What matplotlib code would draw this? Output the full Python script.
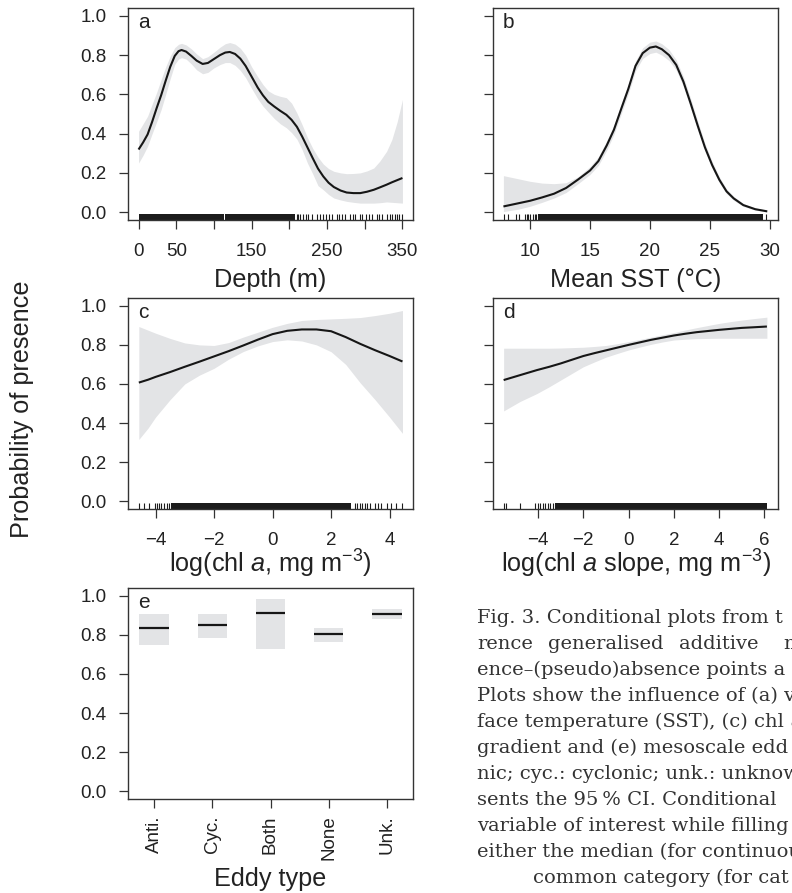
import numpy as np
import matplotlib
matplotlib.use("Agg")
import matplotlib.pyplot as plt

# ============================================================================
# 1. Data
# ============================================================================
# (a) Depth
depth_x = [0, 6, 12, 18, 24, 30, 36, 42, 48, 53, 57, 63, 70, 77, 85, 92, 100, 108, 115,
           121, 128, 135, 142, 150, 158, 165, 172, 180, 188, 196, 203, 210, 217, 224,
           231, 238, 245, 252, 259, 268, 276, 285, 294, 303, 312, 320, 329, 336, 343, 350]
depth_fit = [0.319, 0.355, 0.396, 0.46, 0.53, 0.596, 0.67, 0.74, 0.796, 0.82, 0.826, 0.818,
             0.796, 0.772, 0.755, 0.76, 0.78, 0.8, 0.813, 0.816, 0.806, 0.782, 0.745, 0.69,
             0.635, 0.595, 0.562, 0.538, 0.516, 0.496, 0.47, 0.435, 0.385, 0.33, 0.275,
             0.222, 0.182, 0.15, 0.128, 0.11, 0.1, 0.097, 0.097, 0.104, 0.114, 0.126, 0.14,
             0.152, 0.163, 0.174]
depth_lo = [0.25, 0.29, 0.336, 0.4, 0.46, 0.523, 0.6, 0.68, 0.753, 0.78, 0.787, 0.78,
            0.755, 0.725, 0.705, 0.712, 0.735, 0.752, 0.762, 0.762, 0.748, 0.722, 0.685,
            0.63, 0.578, 0.54, 0.51, 0.477, 0.45, 0.43, 0.405, 0.372, 0.318, 0.25, 0.195,
            0.135, 0.114, 0.09, 0.072, 0.062, 0.055, 0.05, 0.046, 0.046, 0.046, 0.048,
            0.052, 0.05, 0.048, 0.046]
depth_hi = [0.412, 0.45, 0.489, 0.55, 0.61, 0.676, 0.74, 0.795, 0.838, 0.855, 0.86, 0.852,
            0.832, 0.806, 0.782, 0.792, 0.815, 0.84, 0.858, 0.864, 0.856, 0.835, 0.8, 0.74,
            0.69, 0.65, 0.618, 0.6, 0.59, 0.583, 0.555, 0.505, 0.445, 0.38, 0.325, 0.28,
            0.245, 0.222, 0.208, 0.2, 0.196, 0.197, 0.2, 0.21, 0.225, 0.26, 0.31, 0.37,
            0.46, 0.574]
depth_rug_dense = [(0, 113.5), (114.5, 207.5)]
depth_rug = [209.8, 212, 214, 218.7, 222, 225, 229.8, 236.5, 240, 245, 248, 252, 256, 263,
             266, 270, 274, 281, 284, 287.5, 294, 297, 301, 305, 309.7, 316, 319, 323,
             329.6, 333, 336, 340, 343, 346, 349.6]

# (b) Mean SST
sst_x = [7.77, 9, 10, 11, 12, 13, 14, 15, 15.7, 16.4, 17, 17.6, 18.2, 18.8, 19.4, 20, 20.5,
         21, 21.6, 22.2, 22.8, 23.4, 24, 24.6, 25.2, 25.8, 26.4, 27, 27.8, 28.8, 29.8]
sst_fit = [0.029, 0.045, 0.058, 0.075, 0.094, 0.123, 0.166, 0.212, 0.26, 0.34, 0.42, 0.525,
           0.628, 0.745, 0.81, 0.838, 0.844, 0.83, 0.8, 0.75, 0.665, 0.555, 0.44, 0.33,
           0.24, 0.165, 0.106, 0.07, 0.036, 0.015, 0.004]
sst_lo = [0.003, 0.015, 0.03, 0.05, 0.072, 0.1, 0.145, 0.192, 0.238, 0.316, 0.396, 0.5,
          0.603, 0.72, 0.783, 0.808, 0.815, 0.8, 0.772, 0.724, 0.64, 0.53, 0.417, 0.31,
          0.222, 0.15, 0.094, 0.06, 0.029, 0.01, 0.001]
sst_hi = [0.186, 0.17, 0.157, 0.148, 0.145, 0.15, 0.18, 0.232, 0.282, 0.364, 0.444, 0.55,
          0.653, 0.77, 0.837, 0.866, 0.872, 0.858, 0.828, 0.776, 0.69, 0.58, 0.463, 0.35,
          0.258, 0.18, 0.118, 0.08, 0.044, 0.021, 0.009]
sst_rug_dense = [(10.67, 29.45)]
sst_rug = [7.83, 8.17, 8.8, 9.08, 9.56, 9.7, 9.83, 10.03, 10.25, 10.4, 10.53, 29.7]

# (c) log chl a
chl_x = [-4.57, -4.25, -4, -3.5, -3, -2.5, -2, -1.5, -1, -0.5, 0, 0.5, 1, 1.5, 2, 2.5, 3,
         3.5, 4, 4.44]
chl_fit = [0.607, 0.622, 0.636, 0.661, 0.688, 0.714, 0.741, 0.768, 0.797, 0.827, 0.855,
           0.872, 0.879, 0.879, 0.87, 0.84, 0.805, 0.773, 0.743, 0.715]
chl_lo = [0.316, 0.375, 0.43, 0.52, 0.6, 0.645, 0.68, 0.727, 0.766, 0.795, 0.817, 0.826,
          0.82, 0.8, 0.765, 0.7, 0.605, 0.52, 0.43, 0.347]
chl_hi = [0.894, 0.875, 0.86, 0.833, 0.81, 0.8, 0.797, 0.812, 0.84, 0.865, 0.89, 0.91,
          0.925, 0.93, 0.933, 0.936, 0.94, 0.95, 0.962, 0.976]
chl_rug_dense = [(-3.48, 2.69)]
chl_rug = [-4.56, -4.39, -4.22, -4.02, -3.95, -3.87, -3.82, -3.70, -3.61, -3.53, 2.81, 2.89,
           2.98, 3.07, 3.15, 3.23, 3.32, 3.49, 3.60, 3.72, 3.91, 4.06, 4.23, 4.43]

# (d) log chl a slope
slope_x = [-5.52, -4.8, -4.05, -3.5, -3, -2.5, -2, -1.5, -1, -0.5, 0, 0.5, 1, 1.5, 2, 2.5,
           3, 3.5, 4, 4.5, 5, 5.5, 6.11]
slope_fit = [0.62, 0.645, 0.671, 0.688, 0.705, 0.724, 0.743, 0.758, 0.772, 0.786, 0.8,
             0.813, 0.826, 0.837, 0.848, 0.857, 0.865, 0.871, 0.877, 0.882, 0.887, 0.89, 0.894]
slope_lo = [0.462, 0.51, 0.551, 0.586, 0.62, 0.654, 0.688, 0.713, 0.737, 0.756, 0.774,
            0.789, 0.803, 0.815, 0.825, 0.829, 0.832, 0.833, 0.834, 0.834, 0.834, 0.834, 0.834]
slope_hi = [0.783, 0.783, 0.783, 0.783, 0.784, 0.786, 0.788, 0.792, 0.797, 0.806, 0.817,
            0.828, 0.84, 0.852, 0.863, 0.876, 0.888, 0.899, 0.91, 0.919, 0.927, 0.934, 0.942]
slope_rug_dense = [(-3.24, 6.11)]
slope_rug = [-5.49, -5.40, -4.81, -4.12, -4.02, -3.90, -3.78, -3.68, -3.58, -3.46, -3.34]

# (e) Eddy type
eddy_labels = ["Anti.", "Cyc.", "Both", "None", "Unk."]
eddy_fit = [0.835, 0.852, 0.910, 0.804, 0.908]
eddy_lo = [0.746, 0.782, 0.726, 0.762, 0.879]
eddy_hi = [0.906, 0.906, 0.983, 0.835, 0.932]

# caption, as far as it is visible on the page
caption_lines = [
    "Fig. 3. Conditional plots from t",
    None,  # justified line, drawn word by word
    "ence\u2013(pseudo)absence points a",
    "Plots show the influence of (a) v",
    "face temperature (SST), (c) chl ",
    "gradient and (e) mesoscale edd",
    "nic; cyc.: cyclonic; unk.: unknow",
    "sents the 95\u2009% CI. Conditional",
    "variable of interest while filling",
    "either the median (for continuou",
    "common category (for cat",
]
caption_line2_words = ["rence", "generalised", "additive", "m"]
caption_line2_x = [477, 548, 679, 783]

# ============================================================================
# 2. Style
# ============================================================================
plt.rcParams["font.family"] = ["Liberation Sans", "DejaVu Sans"]
plt.rcParams["mathtext.fontset"] = "custom"
plt.rcParams["mathtext.rm"] = "Liberation Sans"
plt.rcParams["mathtext.it"] = "Liberation Sans:italic"

band_col = "#e3e4e6"
line_col = "#161616"
axis_col = "#333333"
text_col = "#222222"
TICK_FS = 13.5
LABEL_FS = 18.2


def style_axes(ax, show_ylabels=True, xpad=10):
    for sp in ax.spines.values():
        sp.set_color(axis_col)
        sp.set_linewidth(1.0)
    ax.tick_params(direction="out", length=6.5, width=0.9,
                   labelsize=TICK_FS, colors=axis_col, labelcolor=text_col)
    ax.tick_params(axis="x", pad=xpad)
    ax.tick_params(axis="y", pad=9)
    ax.set_ylim(-0.04, 1.04)
    ax.set_yticks([0, 0.2, 0.4, 0.6, 0.8, 1.0])
    if show_ylabels:
        ax.set_yticklabels(["0.0", "0.2", "0.4", "0.6", "0.8", "1.0"])
    else:
        ax.set_yticklabels([])


def smooth_panel(ax, x, fit, lo, hi, dense, ticks, letter):
    ax.fill_between(x, lo, hi, color=band_col, linewidth=0)
    ax.plot(x, fit, color=line_col, linewidth=1.5, solid_capstyle="butt",
            solid_joinstyle="round")
    for a, b in dense:
        ax.axvspan(a, b, ymin=0, ymax=0.03, color="#1c1c1c", linewidth=0)
    ax.vlines(ticks, 0, 0.03, transform=ax.get_xaxis_transform(),
              color="#1c1c1c", linewidth=0.8)
    ax.text(0.035, 0.905, letter, transform=ax.transAxes, fontsize=15,
            color=text_col, va="baseline", ha="left")


# ============================================================================
# 3. Figure
# ============================================================================
fig = plt.figure(figsize=(7.92, 8.93), dpi=100)
W, H = 792, 893


def px_axes(left, top, right, bottom):
    return fig.add_axes([left / W, 1 - bottom / H, (right - left) / W, (bottom - top) / H])


ax_a = px_axes(128, 8, 413, 220)
ax_b = px_axes(493, 8, 778, 220)
ax_c = px_axes(128, 298, 413, 509)
ax_d = px_axes(493, 298, 778, 509)
ax_e = px_axes(128, 588, 413, 799)

# --- (a) Depth ---
smooth_panel(ax_a, depth_x, depth_fit, depth_lo, depth_hi, depth_rug_dense, depth_rug, "a")
style_axes(ax_a)
ax_a.set_xlim(-14, 364)
ax_a.set_xticks(np.arange(0, 351, 50))
ax_a.set_xticklabels(["0", "50", "", "150", "", "250", "", "350"])
ax_a.set_xlabel("Depth (m)", fontsize=LABEL_FS, color=text_col, labelpad=6)

# --- (b) Mean SST ---
smooth_panel(ax_b, sst_x, sst_fit, sst_lo, sst_hi, sst_rug_dense, sst_rug, "b")
style_axes(ax_b, show_ylabels=False)
ax_b.set_xlim(6.9, 30.7)
ax_b.set_xticks([10, 15, 20, 25, 30])
ax_b.set_xlabel("Mean SST (\u00b0C)", fontsize=LABEL_FS, color=text_col, labelpad=6)

# --- (c) chl a ---
smooth_panel(ax_c, chl_x, chl_fit, chl_lo, chl_hi, chl_rug_dense, chl_rug, "c")
style_axes(ax_c)
ax_c.set_xlim(-4.94, 4.8)
ax_c.set_xticks([-4, -2, 0, 2, 4])
ax_c.set_xlabel(r"log(chl $a$, mg m$^{-3}$)", fontsize=LABEL_FS, color=text_col, labelpad=-0.5)

# --- (d) chl a slope ---
smooth_panel(ax_d, slope_x, slope_fit, slope_lo, slope_hi, slope_rug_dense, slope_rug, "d")
style_axes(ax_d, show_ylabels=False)
ax_d.set_xlim(-5.99, 6.6)
ax_d.set_xticks([-4, -2, 0, 2, 4, 6])
ax_d.set_xlabel(r"log(chl $a$ slope, mg m$^{-3}$)", fontsize=LABEL_FS, color=text_col, labelpad=-0.5)

# --- (e) Eddy type ---
pos = np.arange(1, len(eddy_labels) + 1)
half = 0.255
for p, f, lo, hi in zip(pos, eddy_fit, eddy_lo, eddy_hi):
    ax_e.fill_between([p - half, p + half], [lo, lo], [hi, hi], color=band_col, linewidth=0)
    ax_e.plot([p - half, p + half], [f, f], color=line_col, linewidth=1.6, solid_capstyle="butt")
style_axes(ax_e, xpad=5.5)
ax_e.set_xlim(0.55, 5.45)
ax_e.set_xticks(pos)
ax_e.set_xticklabels(eddy_labels, rotation=90)
ax_e.set_xlabel("Eddy type", fontsize=LABEL_FS, color=text_col, labelpad=4.5)
ax_e.text(0.035, 0.905, "e", transform=ax_e.transAxes, fontsize=15,
          color=text_col, va="baseline", ha="left")

# shared y label
fig.text(22 / W, 1 - 409 / H, "Probability of presence", rotation=90,
         ha="center", va="center", fontsize=LABEL_FS, color=text_col)

# caption (the page cuts it at the right edge)
cap_kw = dict(family="DejaVu Serif", fontsize=14, color="#333333", ha="left", va="baseline")
renderer = fig.canvas.get_renderer()
for i, line in enumerate(caption_lines):
    y = 1 - (623 + 26 * i) / H
    if line is None:
        for word, wx in zip(caption_line2_words, caption_line2_x):
            fig.text(wx / W, y, word, **cap_kw)
        continue
    x0 = 533 if i == len(caption_lines) - 1 else 477
    t = fig.text(x0 / W, y, line, **cap_kw)
    if i == 4:
        # italic "a" after "chl"
        bb = t.get_window_extent(renderer)
        fig.text(bb.x1 / W, y, "a", style="italic", **cap_kw)

plt.savefig("out.png", dpi=100)
plt.close()
